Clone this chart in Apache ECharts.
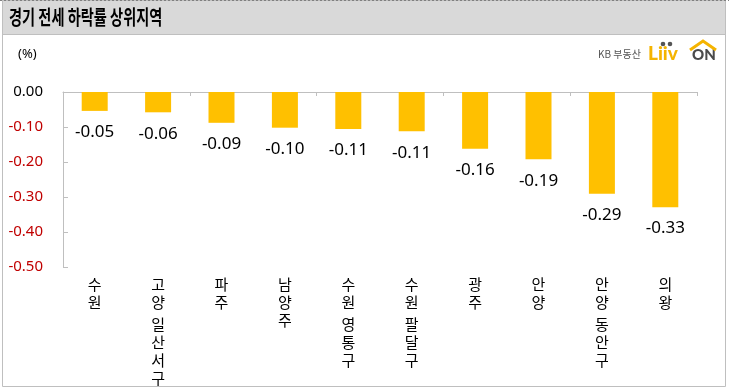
<!DOCTYPE html>
<html><head><meta charset="utf-8">
<script src="https://cdn.jsdelivr.net/npm/echarts@6/dist/echarts.min.js"></script>
<style>html,body{margin:0;padding:0;background:#fff}#c{width:729px;height:390px}</style>
</head><body><div id="c"></div>
<script>
const titleText = '경기 전세 하락률 상위지역';
const unitText = '(%)';
const categories = ['수원', '고양 일산서구', '파주', '남양주', '수원 영통구', '수원 팔달구', '광주', '안양', '안양 동안구', '의왕'];
const values = [-0.054, -0.058, -0.088, -0.102, -0.106, -0.112, -0.162, -0.192, -0.291, -0.329];
const yTicks = [0, -0.1, -0.2, -0.3, -0.4, -0.5];

const chart = echarts.init(document.getElementById('c'), null, {renderer: 'canvas'});
const FONT = '"Noto Sans", "Noto Sans CJK KR", sans-serif';
const KFONT = '"Noto Sans CJK KR", "Noto Sans", sans-serif';

chart.setOption({
  animation: false,
  backgroundColor: '#fff',
  grid: {left: 63, right: 32, top: 92, bottom: 123, containLabel: false},
  xAxis: [{
    type: 'category', data: categories, position: 'bottom',
    axisLine: {show: false}, axisTick: {show: false},
    axisLabel: {
      interval: 0, margin: 8, color: '#000', fontSize: 15, lineHeight: 18,
      fontFamily: KFONT, verticalAlign: 'top',
      formatter: v => v.split('').map(ch => ch === ' ' ? '{g|.}' : ch).join('\n'),
      rich: {g: {fontSize: 3, lineHeight: 4, color: 'rgba(0,0,0,0)'}}
    }
  }, {
    type: 'category', data: categories, position: 'top',
    axisLine: {show: true, onZero: false, lineStyle: {color: '#BFBFBF', width: 1}},
    axisTick: {show: true, inside: true, length: 4, lineStyle: {color: '#BFBFBF'}},
    axisLabel: {show: false}
  }],
  yAxis: {
    type: 'value', min: -0.5, max: 0, interval: 0.1,
    axisLine: {show: true, lineStyle: {color: '#BFBFBF'}},
    axisTick: {show: true, inside: true, length: 5, lineStyle: {color: '#BFBFBF'}},
    splitLine: {show: false},
    axisLabel: {
      margin: 20, fontSize: 15, fontFamily: FONT,
      formatter: v => v.toFixed(2),
      color: v => (Math.abs(v) < 1e-9 ? '#000' : '#C00000')
    }
  },
  series: [{
    type: 'bar', data: values, xAxisIndex: 0, barWidth: 26,
    itemStyle: {color: '#FFC000'},
    label: {
      show: true, position: 'bottom', distance: 13, color: '#000',
      fontSize: 17, fontFamily: FONT,
      formatter: p => p.value.toFixed(2)
    }
  }],
  graphic: [
    {type: 'rect', z: -10, shape: {x: 2.5, y: 0.5, width: 723, height: 386}, style: {fill: '#fff', stroke: '#BFBFBF', lineWidth: 1}},
    {type: 'rect', z: -5, shape: {x: 2.5, y: 0.5, width: 723, height: 34}, style: {fill: '#D9D9D9', stroke: '#BFBFBF', lineWidth: 1}},
    {type: 'line', z: -4, shape: {x1: 0, y1: 0.5, x2: 729, y2: 0.5}, style: {stroke: '#808080', lineDash: [2, 2], lineWidth: 1}},
    {type: 'text', x: 9, y: 17, scaleX: 0.71, style: {text: titleText, font: 'bold 20px ' + KFONT, fill: '#000', verticalAlign: 'middle'}},
    {type: 'text', left: 18, top: 48, style: {text: unitText, font: '13px ' + FONT, fill: '#000'}},
    {type: 'text', left: 598, top: 49, style: {text: 'KB 부동산', font: '10px ' + KFONT, fill: '#555'}},
    {type: 'text', left: 648, top: 44, style: {text: 'Liiv', font: '900 19px Lato, Roboto, sans-serif', fill: '#F5B400'}},
    {type: 'circle', shape: {cx: 663, cy: 44, r: 2.3}, style: {fill: '#555'}},
    {type: 'circle', shape: {cx: 670, cy: 44, r: 2.3}, style: {fill: '#555'}},
    {type: 'text', left: 692, top: 48, style: {text: 'ON', font: '900 15px Lato, Roboto, sans-serif', fill: '#4a4a4a'}},
    {type: 'polyline', shape: {points: [[690, 50], [703, 41], [716, 50]]}, style: {stroke: '#F5B400', lineWidth: 3, fill: null}}
  ]
});
</script></body></html>
